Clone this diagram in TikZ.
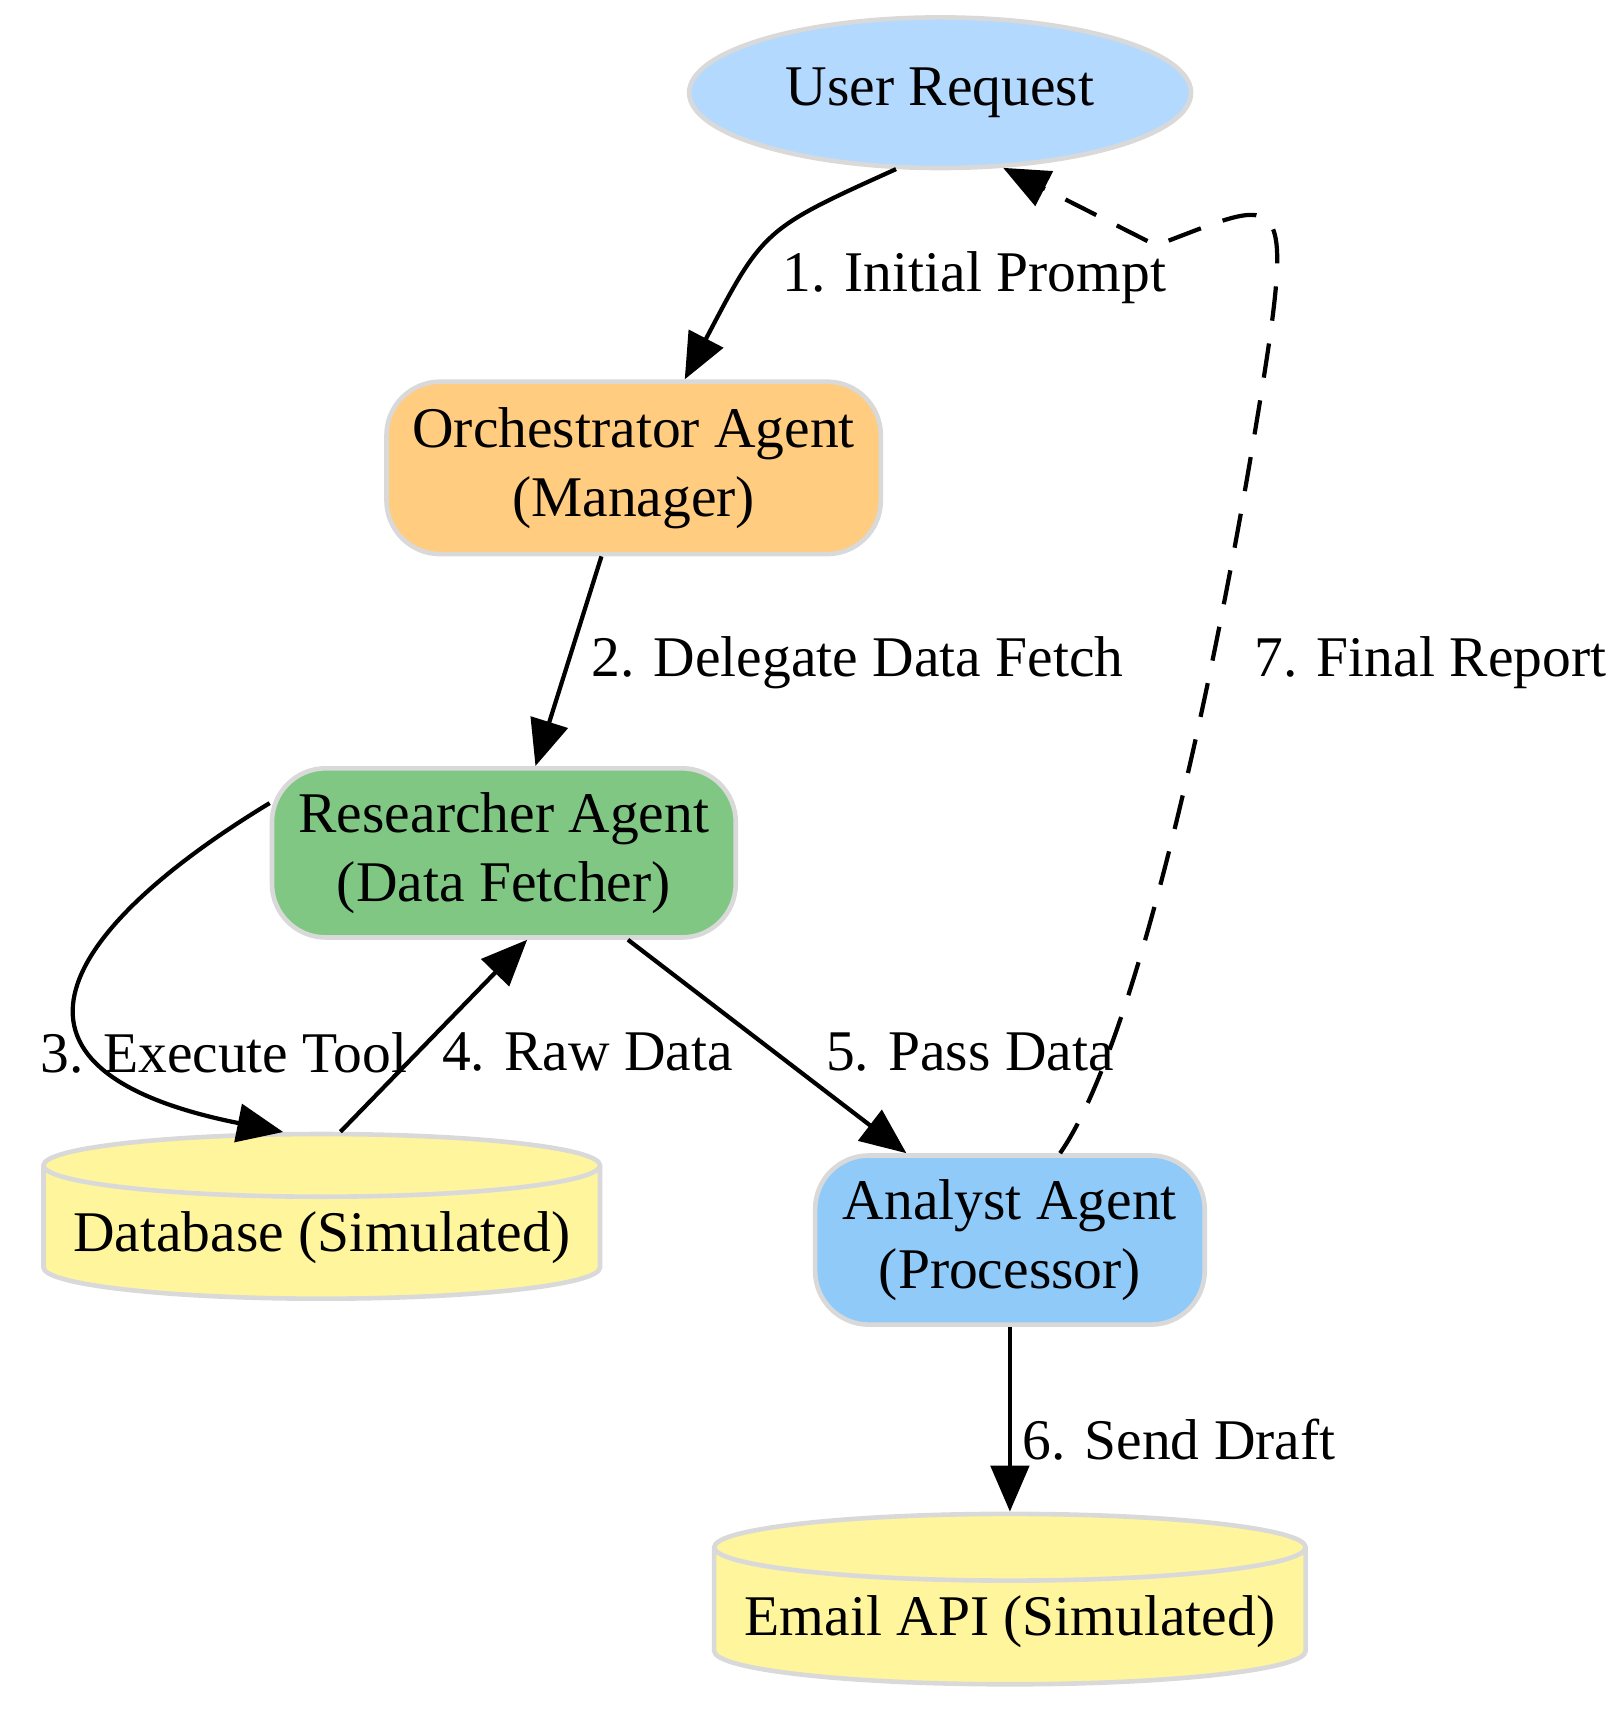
\documentclass[tikz,border=0pt]{standalone}
\usepackage{fontspec}
\setmainfont{Liberation Serif}
\usetikzlibrary{shapes.geometric,arrows.meta}
\definecolor{usrfill}{HTML}{B3D9FF}
\definecolor{orchfill}{HTML}{FFCC80}
\definecolor{resfill}{HTML}{81C784}
\definecolor{anafill}{HTML}{90CAF9}
\definecolor{toolfill}{HTML}{FFF59D}
\definecolor{edgegray}{HTML}{D9D9D9}
\tikzset{
  txt/.style={font=\fontsize{15}{18}\selectfont},
  agent/.style={txt,draw=edgegray,line width=1.2pt,rounded corners=14pt,align=center},
  tool/.style={txt,cylinder,shape border rotate=90,aspect=0.12,draw=edgegray,line width=1.2pt,fill=toolfill},
  flow/.style={line width=1.1pt,-{Triangle[length=12pt,width=10pt]}}
}
\begin{document}
\begin{tikzpicture}[x=0.01cm,y=-0.01cm]
            \useasboundingbox (0,0) rectangle (1475,1578);

            % nodes
            \node[txt,ellipse,draw=edgegray,line width=1.2pt,fill=usrfill,minimum width=4.6cm,minimum height=1.38cm] (user) at (862,85) {User Request};
            \node[agent,fill=orchfill,minimum width=4.53cm,minimum height=1.58cm] (orch) at (581,429) {Orchestrator Agent\\(Manager)};
            \node[agent,fill=resfill,minimum width=4.25cm,minimum height=1.55cm] (res) at (462,782) {Researcher Agent\\(Data Fetcher)};
            \node[agent,fill=anafill,minimum width=3.57cm,minimum height=1.55cm] (ana) at (926,1137) {Analyst Agent\\(Processor)};
            \node[tool,minimum width=5.1cm,minimum height=1.32cm] (db) at (295,1135) {Database (Simulated)};
            \node[tool,minimum width=5.42cm,minimum height=1.32cm] (mail) at (926,1487) {Email API (Simulated)};

            % connectors
            \draw[flow] (user.-120) .. controls (700,210) .. (orch.60);
            \draw[flow] (orch.-110) -- (res.70);
            \draw[flow] (res.168) .. controls (60,850) and (-30,980) .. (db.110);
            \draw[flow] (db.80) -- (res.-75);
            \draw[flow] (res.-35) -- (ana.140);
            \draw[flow] (ana) -- (mail);
            \draw[flow,dash pattern=on 9pt off 6pt] (ana.60) .. controls (1040,960) and (1110,640) .. (1150,400)
                .. controls (1190,160) and (1180,180) .. (1060,225) -- (user.-50);

            % labels
            \node[txt,anchor=west] (l1) at (705,255) {1. Initial Prompt};
            \node[txt,anchor=west] (l2) at (530,608) {2. Delegate Data Fetch};
            \node[txt,anchor=west] (l3) at (25,965) {3. Execute Tool};
            \node[txt,anchor=west] (l4) at (393,965) {4. Raw Data};
            \node[txt,anchor=west] (l5) at (745,965) {5. Pass Data};
            \node[txt,anchor=west] (l6) at (925,1320) {6. Send Draft};
            \node[txt,anchor=west] (l7) at (1138,608) {7. Final Report};

\end{tikzpicture}
\end{document}
